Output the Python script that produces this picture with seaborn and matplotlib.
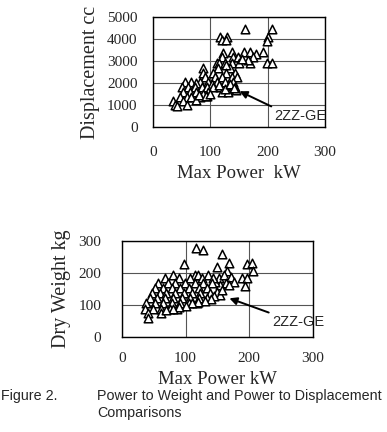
import matplotlib
matplotlib.use("Agg")
import matplotlib.pyplot as plt
import seaborn as sns
import pandas as pd

# ---- data: Max Power (kW) vs Displacement (cc)
disp_power = [208, 160, 117, 130, 120, 128, 201, 198, 192, 198, 207,
              137, 159, 169, 180, 123, 120, 140, 149, 175,
              111, 116, 126, 137, 150, 169, 165, 155,
              88, 114, 134, 128, 88, 105, 128, 143,
              91, 108, 120, 137, 146,
              56, 67, 82, 96, 111, 126, 140, 75, 103,
              50, 62, 73, 85, 94, 105, 117, 131, 143, 138,
              53, 65, 76, 96, 120, 131, 88,
              47, 59, 67, 82, 95, 35, 53, 75, 38, 59, 42,
              115, 125, 135, 145, 142, 80, 92, 100]
disp_cc = [4470, 4440, 4100, 4100, 3950, 3950, 4100, 3920, 3420, 2920, 2920,
           3420, 3420, 3420, 3300, 3350, 3200, 3200, 3200, 3200,
           2925, 2925, 2925, 2925, 2925, 2925, 3050, 3100,
           2670, 2670, 2670, 2800, 2470, 2470, 2470, 2470,
           2290, 2290, 2290, 2290, 2290,
           2060, 2060, 2060, 2060, 2060, 2060, 2060, 1990, 1950,
           1830, 1830, 1830, 1830, 1830, 1830, 1830, 1830, 1830, 1750,
           1600, 1600, 1600, 1600, 1600, 1600, 1500,
           1350, 1350, 1350, 1350, 1400, 1200, 1200, 1250, 1000, 1000, 950,
           1900, 1750, 1950, 1700, 1796, 1450, 1430, 1500]

# ---- data: Max Power (kW) vs Dry Weight (kg)
wt_power = [116, 128, 158, 98, 197, 205, 206, 150, 168, 189, 197, 194,
            166, 152, 160, 171, 176, 163, 155, 147, 168,
            81, 115, 120, 136,
            68, 89, 107, 126, 144,
            57, 73, 84, 99, 115, 128, 142,
            52, 65, 78, 91, 105, 121, 134,
            47, 60, 70, 84, 97, 110, 123, 139,
            44, 55, 68, 81, 94, 107, 121, 134,
            38, 52, 65, 78, 91, 105, 118,
            36, 49, 62, 76, 86, 41, 62, 41,
            150, 155, 145, 158, 140, 130, 120, 110, 100, 90, 80, 70]
wt_kg = [276, 271, 260, 226, 228, 229, 205, 219, 229, 182, 184, 159,
         205, 182, 193, 188, 172, 167, 162, 172, 162,
         193, 193, 193, 193,
         183, 183, 183, 183, 183,
         167, 167, 167, 167, 167, 167, 167,
         151, 151, 151, 151, 151, 151, 151,
         136, 136, 136, 136, 136, 136, 136, 136,
         120, 120, 120, 120, 120, 120, 120, 120,
         104, 104, 104, 104, 104, 104, 104,
         88, 88, 88, 88, 88, 73, 73, 60,
         140, 130, 128, 145, 118, 112, 110, 105, 95, 92, 88, 82]

x_ticks = [0, 100, 200, 300]
disp_ticks = [0, 1000, 2000, 3000, 4000, 5000]
wt_ticks = [0, 100, 200, 300]

df_d = pd.DataFrame({"power": disp_power, "cc": disp_cc})
df_w = pd.DataFrame({"power": wt_power, "kg": wt_kg})

sns.set_theme(style="white")
serif = ["Liberation Serif", "DejaVu Serif"]
sans = ["Liberation Sans", "DejaVu Sans"]

fig = plt.figure(figsize=(3.87, 4.32), dpi=100)
ax1 = fig.add_axes([0.395, 0.706, 0.445, 0.2545])
ax2 = fig.add_axes([0.315, 0.2206, 0.493, 0.2222])

mk = dict(marker="^", s=38, facecolor="white", edgecolor="black", linewidth=1.1, legend=False)
sns.scatterplot(data=df_d, x="power", y="cc", ax=ax1, **mk)
sns.scatterplot(data=df_w, x="power", y="kg", ax=ax2, **mk)

for ax, yt, ylab, xlab, xpad, ypad in [
        (ax1, disp_ticks, "Displacement cc", "Max Power  kW", 14, 11),
        (ax2, wt_ticks, "Dry Weight kg", "Max Power kW", 11, 15)]:
    ax.set_xlim(0, 300)
    ax.set_ylim(0, yt[-1])
    ax.set_xticks(x_ticks)
    ax.set_yticks(yt)
    ax.set_xticklabels([str(v) for v in x_ticks], family=serif, fontsize=11)
    ax.set_yticklabels([str(v) for v in yt], family=serif, fontsize=11)
    ax.tick_params(axis="both", length=0)
    ax.tick_params(axis="x", pad=xpad)
    ax.tick_params(axis="y", pad=ypad)
    ax.grid(True, color="#555555", linewidth=0.8)
    ax.set_axisbelow(True)
    for sp in ax.spines.values():
        sp.set_color("black")
        sp.set_linewidth(1.0)
    ax.set_xlabel(xlab, family=serif, fontsize=13.5, labelpad=4)
    ax.set_ylabel(ylab, family=serif, fontsize=14.5, labelpad=5)

ax1.annotate("2ZZ-GE", xy=(151, 1626), xytext=(212, 490), fontsize=10.5, family=sans,
             va="center", ha="left", annotation_clip=False,
             arrowprops=dict(arrowstyle="-|>", color="black", lw=1.4,
                             mutation_scale=11, shrinkA=0, shrinkB=0,
                             relpos=(0.05, 1.0)))
ax2.annotate("2ZZ-GE", xy=(169, 120), xytext=(236, 47), fontsize=10.5, family=sans,
             va="center", ha="left", annotation_clip=False,
             arrowprops=dict(arrowstyle="-|>", color="black", lw=1.4,
                             mutation_scale=11, shrinkA=0, shrinkB=0,
                             relpos=(0.05, 1.0)))

fig.text(0.003, 1 - 396 / 432, "Figure 2.", family=sans, fontsize=10.3, va="center", ha="left")
fig.text(97 / 387, 1 - 396 / 432, "Power to Weight and Power to Displacement",
         family=sans, fontsize=10.3, va="center", ha="left")
fig.text(97 / 387, 1 - 413 / 432, "Comparisons", family=sans, fontsize=10.3, va="center", ha="left")

fig.savefig("out.png", dpi=100, facecolor="white")
